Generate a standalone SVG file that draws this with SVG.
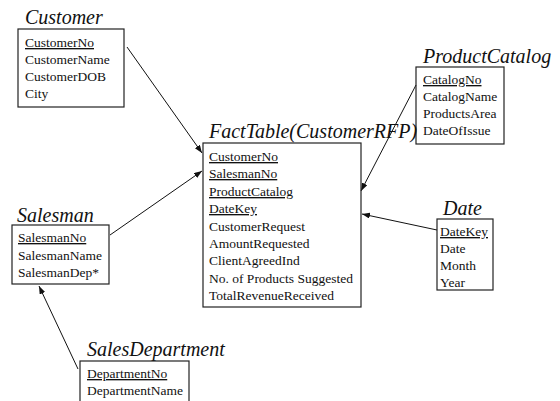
<svg xmlns="http://www.w3.org/2000/svg" width="560" height="401" viewBox="0 0 560 401">
  <style>
    .box { fill: none; stroke: #222; stroke-width: 1.2; }
    .title { font-style: italic; font-size: 20px; fill: #111; }
    .attr { font-size: 13.5px; fill: #111; }
    .key { text-decoration: underline; }
    .link { stroke: #111; stroke-width: 1; fill: none; marker-end: url(#arrow); }
  </style>
  <defs>
    <marker id="arrow" markerUnits="userSpaceOnUse" markerWidth="9" markerHeight="7" refX="8" refY="3" orient="auto">
      <path d="M0,0 L8,3 L0,6 z" fill="#111"/>
    </marker>
  </defs>
  <rect width="560" height="401" fill="#fff"/>

  <!-- relationships -->
  <g id="connectors">
    <line class="link" x1="127" y1="47" x2="202" y2="153"/>
    <line class="link" x1="110" y1="235" x2="202" y2="171"/>
    <line class="link" x1="416" y1="85" x2="361" y2="191"/>
    <line class="link" x1="437" y1="230" x2="362" y2="214"/>
    <line class="link" x1="78" y1="369" x2="39" y2="286"/>
  </g>

  <g font-family="Liberation Serif, serif">
  <g id="customer">
    <text class="title" x="25" y="24">Customer</text>
    <rect class="box" x="18" y="29" width="106" height="78"/>
    <text class="attr key" x="25" y="47">CustomerNo</text>
    <text class="attr" x="25" y="64">CustomerName</text>
    <text class="attr" x="25" y="81">CustomerDOB</text>
    <text class="attr" x="25" y="98">City</text>
  </g>

  <g id="productCatalog">
    <rect class="box" x="416" y="67" width="88" height="77"/>
    <text class="title" x="423" y="63">ProductCatalog</text>
    <text class="attr key" x="423" y="84">CatalogNo</text>
    <text class="attr" x="423" y="101">CatalogName</text>
    <text class="attr" x="423" y="118">ProductsArea</text>
    <text class="attr" x="423" y="135">DateOfIssue</text>
  </g>

  <g id="factTable">
    <rect class="box" x="203" y="143" width="158" height="164"/>
    <text class="title" x="209" y="138">FactTable(CustomerRFP)</text>
    <text class="attr key" x="209" y="161">CustomerNo</text>
    <text class="attr key" x="209" y="178">SalesmanNo</text>
    <text class="attr key" x="209" y="196">ProductCatalog</text>
    <text class="attr key" x="209" y="213">DateKey</text>
    <text class="attr" x="209" y="231">CustomerRequest</text>
    <text class="attr" x="209" y="248">AmountRequested</text>
    <text class="attr" x="209" y="265">ClientAgreedInd</text>
    <text class="attr" x="209" y="283">No. of Products Suggested</text>
    <text class="attr" x="209" y="300">TotalRevenueReceived</text>
  </g>

  <g id="salesman">
    <text class="title" x="17" y="222">Salesman</text>
    <rect class="box" x="12" y="225" width="97" height="59"/>
    <text class="attr key" x="18" y="242">SalesmanNo</text>
    <text class="attr" x="18" y="260">SalesmanName</text>
    <text class="attr" x="18" y="277">SalesmanDep*</text>
  </g>

  <g id="date">
    <text class="title" x="443" y="215">Date</text>
    <rect class="box" x="437" y="219" width="56" height="71"/>
    <text class="attr key" x="440" y="236">DateKey</text>
    <text class="attr" x="440" y="253">Date</text>
    <text class="attr" x="440" y="270">Month</text>
    <text class="attr" x="440" y="287">Year</text>
  </g>

  <g id="salesDepartment">
    <text class="title" x="87" y="356">SalesDepartment</text>
    <rect class="box" x="80" y="361" width="109" height="50"/>
    <text class="attr key" x="87" y="378">DepartmentNo</text>
    <text class="attr" x="87" y="395">DepartmentName</text>
  </g>
  </g>
</svg>
